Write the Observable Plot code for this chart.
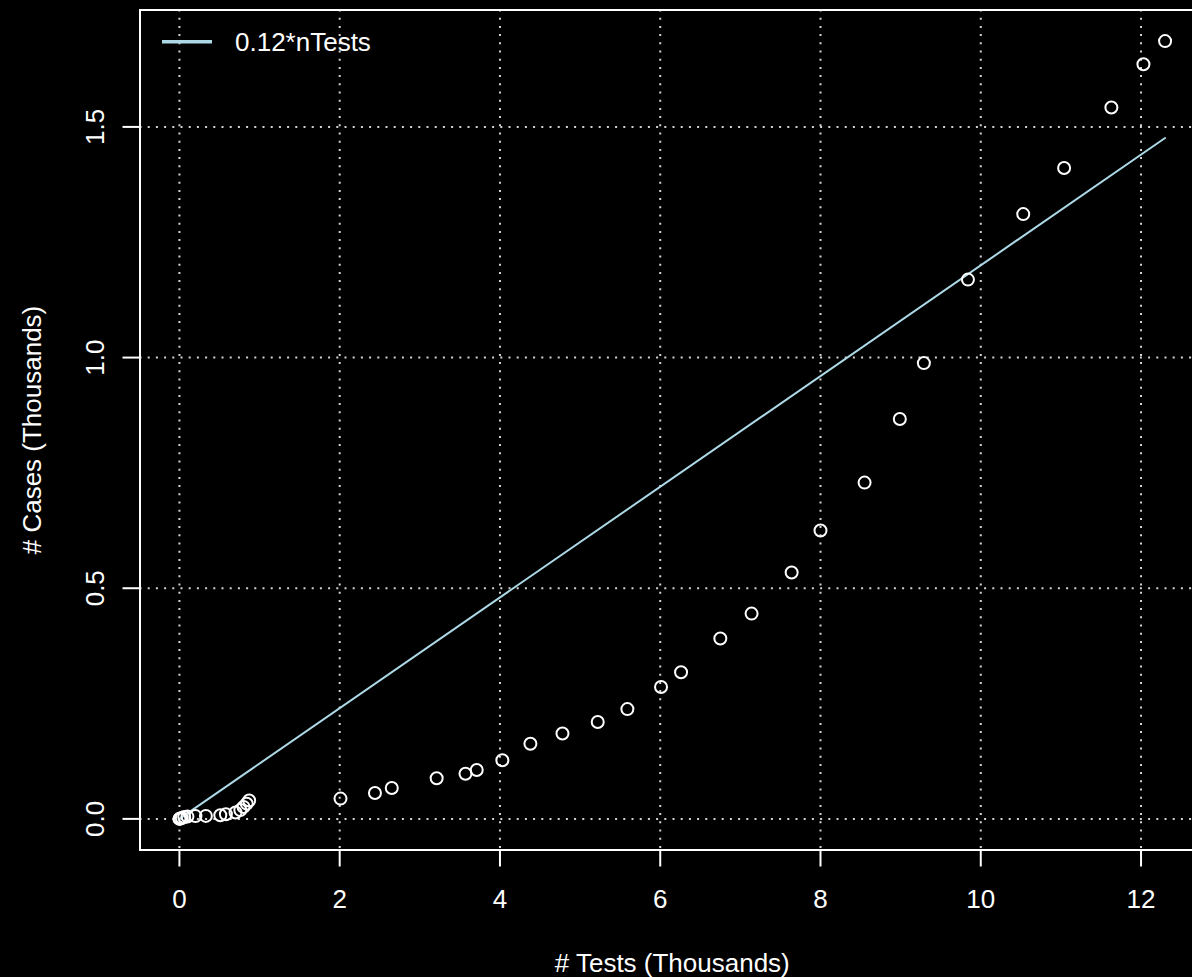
<!DOCTYPE html>
<html>
<head>
<meta charset="utf-8">
<script src="https://cdn.jsdelivr.net/npm/d3@7"></script>
<script src="https://cdn.jsdelivr.net/npm/@observablehq/plot@0.6"></script>
<style>
html, body { margin: 0; padding: 0; background: #000; overflow: hidden; width: 1192px; height: 977px; }
#chart { position: relative; width: 1192px; height: 977px; overflow: hidden; background: #000; }
#chart svg { max-width: none !important; display: block; }
#legend { position: absolute; left: 0; top: 0; overflow: visible; }
</style>
</head>
<body>
<div id="chart"></div>
<script>
// ---- data (thousands) ----
const tests = [0, 0.01, 0.03, 0.06, 0.1, 0.2, 0.33, 0.51, 0.58, 0.70, 0.76, 0.80, 0.84, 0.87,
  2.01, 2.44, 2.65, 3.21, 3.57, 3.71, 4.03, 4.38, 4.78, 5.22, 5.59, 6.01, 6.26, 6.75, 7.14,
  7.64, 8.00, 8.55, 8.99, 9.29, 9.84, 10.53, 11.04, 11.63, 12.03, 12.30];
const cases = [0, 0.001, 0.002, 0.004, 0.005, 0.006, 0.0065, 0.008, 0.010, 0.014, 0.019, 0.026, 0.033, 0.040,
  0.044, 0.056, 0.067, 0.088, 0.098, 0.106, 0.127, 0.163, 0.185, 0.210, 0.238, 0.286, 0.318, 0.391, 0.445,
  0.534, 0.625, 0.729, 0.867, 0.988, 1.169, 1.311, 1.411, 1.542, 1.636, 1.686];
const slope = 0.12;
const legendLabel = "0.12*nTests";
const xTicks = [0, 2, 4, 6, 8, 10, 12];
const xTickLabels = ["0", "2", "4", "6", "8", "10", "12"];
const yTicks = [0, 0.5, 1, 1.5];
const yTickLabels = ["0.0", "0.5", "1.0", "1.5"];
const xTitle = "# Tests (Thousands)";
const yTitle = "# Cases (Thousands)";

// ---- derived ----
const points = tests.map((t, i) => ({tests: t, cases: cases[i]}));
const [xMin, xMax] = d3.extent(tests);
const [yMin, yMax] = d3.extent(cases);
const fit = [{tests: xMin, cases: slope * xMin}, {tests: xMax, cases: slope * xMax}];
const pad = (a, b) => [a - 0.04 * (b - a), b + 0.04 * (b - a)];

const font = "'Liberation Sans', Arial, Helvetica, sans-serif";
const grid = {stroke: "#d3d3d3", strokeWidth: 2, strokeDasharray: "2,6.2"};

const plot = Plot.plot({
  width: 1230,
  height: 977,
  marginLeft: 139.5,
  marginRight: 26,
  marginTop: 9.5,
  marginBottom: 127.5,
  x: {domain: pad(xMin, xMax)},
  y: {domain: pad(yMin, yMax)},
  style: {background: "#000", color: "#fff", fontFamily: font, fontSize: "26px", maxWidth: "none", overflow: "hidden"},
  marks: [
    Plot.ruleX(xTicks, grid),
    Plot.ruleY(yTicks, grid),
    Plot.line(fit, {x: "tests", y: "cases", stroke: "#add8e6", strokeWidth: 2}),
    Plot.dot(points, {x: "tests", y: "cases", r: 6, stroke: "#fff", strokeWidth: 2, fill: "none"}),
    Plot.frame({stroke: "#fff", strokeWidth: 2}),
    Plot.axisX(xTicks, {tickSize: 17, tickPadding: 22.5, tickFormat: d => xTickLabels[xTicks.indexOf(d)],
      fontSize: 26, stroke: "#fff", strokeWidth: 2, fill: "#fff", label: null}),
    Plot.axisY(yTicks, {tickSize: 17, tickFormat: () => "", stroke: "#fff", strokeWidth: 2, label: null}),
    Plot.text(yTicks, {y: d => d, text: d => yTickLabels[yTicks.indexOf(d)], frameAnchor: "left", dx: -44.8,
      rotate: -90, textAnchor: "middle", lineAnchor: "middle", fill: "#fff", fontSize: 26}),
    Plot.text([xTitle], {text: d => d, frameAnchor: "bottom", dy: 113.2, lineAnchor: "middle", fill: "#fff", fontSize: 26}),
    Plot.text([yTitle], {text: d => d, frameAnchor: "left", dx: -107.8, rotate: -90, textAnchor: "middle",
      lineAnchor: "middle", fill: "#fff", fontSize: 26})
  ]
});
document.getElementById("chart").appendChild(plot);

// ---- legend (top-left, inside the plot box) ----
const leg = d3.select("#chart").append("svg").attr("id", "legend").attr("width", 420).attr("height", 70);
leg.append("line").attr("x1", 162).attr("x2", 212).attr("y1", 41.7).attr("y2", 41.7)
  .attr("stroke", "#add8e6").attr("stroke-width", 3.5);
leg.append("text").attr("x", 235).attr("y", 50.7).attr("fill", "#fff")
  .style("font-family", font).style("font-size", "26px").text(legendLabel);
</script>
</body>
</html>
